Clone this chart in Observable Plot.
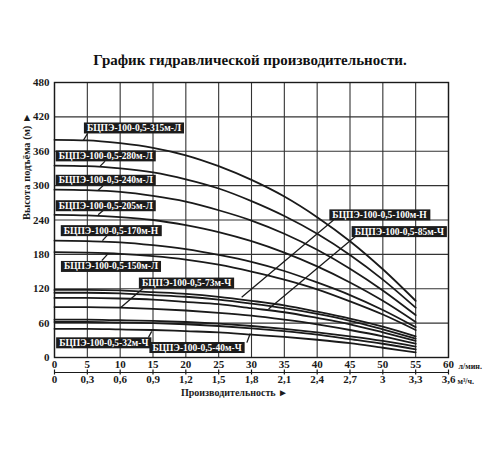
<!DOCTYPE html>
<html><head><meta charset="utf-8">
<script src="https://cdn.jsdelivr.net/npm/d3@7"></script>
<script src="https://cdn.jsdelivr.net/npm/@observablehq/plot@0.6"></script>
<style>
body{margin:0;background:#fff;}
#title{font:bold 15px "Liberation Serif",serif;text-align:center;height:20px;line-height:20px;margin-top:50px;color:#111;}
#chart svg{overflow:visible;}
</style></head><body>
<div id="title">График гидравлической производительности.</div>
<div id="chart"></div>
<script>
// Flow rate, l/min
const flowLpm = [0, 5, 10, 15, 20, 25, 30, 35, 40, 45, 50, 55];
// Head (m) for each pump curve
const h315 = [380, 379, 374, 366, 353, 334, 310, 281, 245, 203, 154, 99];
const h280 = [335, 334, 330, 323, 311, 295, 273, 247, 216, 179, 136, 87];
const h240 = [293, 292, 289, 282, 272, 257, 239, 216, 188, 155, 117, 74];
const h205 = [249, 248, 245, 240, 231, 219, 203, 183, 159, 131, 99, 62];
const h170 = [204, 203, 201, 196, 189, 179, 167, 151, 131, 109, 83, 53];
const h150 = [184, 183, 181, 177, 171, 162, 150, 136, 119, 98, 75, 48];
const h100 = [118, 118, 117, 114, 111, 106, 99, 91, 80, 68, 54, 37];
const hA   = [113, 113, 112, 109, 106, 101, 94, 86, 76, 64, 49, 33];
const h85  = [104, 104, 103, 101, 97, 93, 86, 79, 69, 58, 44, 29];
const h73  = [88, 88, 87, 85, 82, 78, 73, 66, 58, 48, 37, 24];
const hB   = [66, 66, 65, 64, 62, 59, 55, 50, 44, 37, 29, 19];
const hC   = [62, 62, 61, 60, 58, 55, 51, 46, 40, 32, 24, 14];
const h40  = [50, 50, 49, 48, 46, 44, 40, 36, 31, 25, 17, 9];

const curveNames = ["315", "280", "240", "205", "170", "150", "100", "A", "85", "73", "B", "C", "40"];
const curveValues = [h315, h280, h240, h205, h170, h150, h100, hA, h85, h73, hB, hC, h40];

// Axis ticks
const xTicks = [0, 5, 10, 15, 20, 25, 30, 35, 40, 45, 50, 55, 60];
const xTicksM3h = ["0", "0,3", "0,6", "0,9", "1,2", "1,5", "1,8", "2,1", "2,4", "2,7", "3", "3,3", "3,6"];
const yTicks = [0, 60, 120, 180, 240, 300, 360, 420, 480];

// Curve labels
const labelText = ["БЦПЭ-100-0,5-315м-Л", "БЦПЭ-100-0,5-280м-Л", "БЦПЭ-100-0,5-240м-Л", "БЦПЭ-100-0,5-205м-Л",
  "БЦПЭ-100-0,5-170м-Н", "БЦПЭ-100-0,5-150м-Л", "БЦПЭ-100-0,5-73м-Ч", "БЦПЭ-100-0,5-32м-Ч",
  "БЦПЭ-100-0,5-40м-Ч", "БЦПЭ-100-0,5-100м-Н", "БЦПЭ-100-0,5-85м-Ч"];
const labelX = [12.1, 7.8, 7.8, 7.8, 8.6, 8.6, 20.1, 7.5, 21.7, 49.5, 52.5];
const labelY = [400.7, 352, 309.4, 265, 221.5, 159, 130, 25.7, 17.5, 249, 219.8];
const leadX1 = [5.0, 7.7, 7.4, 7.4, 8.0, 7.2, 13.5, 14.3, 29.3, 42.5, 45.8];
const leadY1 = [390.6, 342.7, 300, 256.5, 212.8, 169, 121, 35, 26, 240, 211];
const leadX2 = [4.4, 6.96, 6.65, 6.65, 7.3, 8.2, 10.1, 14.8, 29.8, 28.5, 32.6];
const leadY2 = [379, 334, 292, 249, 204, 181.8, 87.4, 45.5, 42, 105, 84.6];

const table = curveNames.flatMap((n, j) => flowLpm.map((q, i) => ({name: n, q, h: curveValues[j][i]})));
const labels = labelText.map((t, i) => ({t, x: labelX[i], y: labelY[i], x1: leadX1[i], y1: leadY1[i], x2: leadX2[i], y2: leadY2[i]}));

const ink = "#1a1a1a";
const chart = Plot.plot({
  width: 500, height: 380,
  marginTop: 12, marginLeft: 54, marginRight: 52, marginBottom: 93,
  style: {fontFamily: "'Liberation Serif', serif", fontWeight: "bold", color: ink, background: "white"},
  x: {domain: [0, 60]},
  y: {domain: [0, 480]},
  marks: [
    Plot.gridX(xTicks, {stroke: "#333", strokeOpacity: 1, strokeWidth: 1.1}),
    Plot.gridY(yTicks, {stroke: "#333", strokeOpacity: 1, strokeWidth: 1.1}),
    Plot.frame({stroke: ink, strokeWidth: 1.4}),
    Plot.axisY(yTicks, {tickSize: 0, tickPadding: 5, fontSize: 11, label: null}),
    Plot.axisX(xTicks, {tickSize: 0, tickPadding: 3, fontSize: 11, label: null, tickFormat: d => String(d)}),
    Plot.axisX(xTicks, {tickSize: 0, tickPadding: 18, fontSize: 11, label: null, tickFormat: d => xTicksM3h[xTicks.indexOf(d)]}),
    Plot.ruleY([0], {dy: 15, stroke: ink, strokeWidth: 1.2}),
    Plot.ruleX(xTicks, {y1: 0, y2: 0, dy: 15, insetTop: -2.5, insetBottom: -2.5, stroke: ink, strokeWidth: 1.2}),
    Plot.text(["л/мин."], {x: 60, y: 0, dx: 10, dy: 9, textAnchor: "start", fontSize: 8}),
    Plot.text(["м³/ч."], {x: 60, y: 0, dx: 9, dy: 24, textAnchor: "start", fontSize: 8}),
    Plot.text(["Производительность ►"], {frameAnchor: "bottom", dx: -17, dy: 38.5, fontSize: 10}),
    Plot.text(["Высота подъёма (м) ►"], {frameAnchor: "left", rotate: -90, dx: -28, fontSize: 10.5}),
    Plot.line(table, {x: "q", y: "h", z: "name", stroke: ink, strokeWidth: 1.8, curve: "monotone-x"}),
    Plot.link(labels, {x1: "x1", y1: "y1", x2: "x2", y2: "y2", stroke: ink, strokeWidth: 1.3}),
    Plot.text(labels, {x: "x", y: "y", text: "t", fill: "white", fontSize: 9.5, className: "boxlbl"})
  ]
});
document.getElementById("chart").appendChild(chart);
// dark boxes behind curve labels, sized to the rendered text
chart.querySelectorAll(".boxlbl text").forEach(t => {
  const b = t.getBBox();
  const r = document.createElementNS("http://www.w3.org/2000/svg", "rect");
  r.setAttribute("x", b.x - 3);
  r.setAttribute("y", b.y - 0.5);
  r.setAttribute("width", b.width + 6);
  r.setAttribute("height", b.height + 1);
  r.setAttribute("fill", "#1c1c1c");
  if (t.getAttribute("transform")) r.setAttribute("transform", t.getAttribute("transform"));
  t.parentNode.insertBefore(r, t);
});
</script>
</body></html>
